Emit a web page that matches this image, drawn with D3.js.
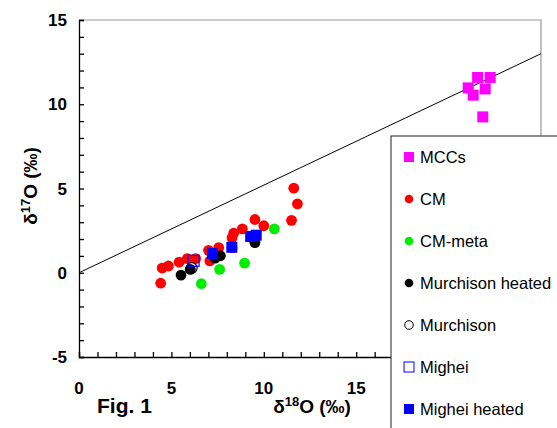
<!DOCTYPE html>
<html>
<head>
<meta charset="utf-8">
<script src="https://cdn.jsdelivr.net/npm/d3@7"></script>
<style>
  body { margin: 0; background: #fff; }
  text { font-family: Arial, "Liberation Sans", sans-serif; }
</style>
</head>
<body>
<script>
// data: [d18O, d17O]
const mccs = [[21.57, 11.59], [22.25, 11.59], [21.06, 10.97], [21.98, 10.91], [21.33, 10.54], [21.85, 9.25]];
const cm = [[4.42, -0.62], [4.5, 0.28], [4.84, 0.4], [5.42, 0.63], [5.86, 0.84], [6.31, 0.84],
    [7.01, 1.33], [7.08, 0.7], [7.56, 1.49], [8.28, 1.49], [8.28, 2.07], [8.37, 2.35],
    [8.84, 2.6], [9.52, 3.16], [10.0, 2.79], [11.5, 3.11], [11.62, 5.02], [11.82, 4.09]];
const cmMeta = [[6.62, -0.65], [7.61, 0.2], [8.96, 0.57], [10.57, 2.6]];
const murchHeated = [[5.52, -0.14], [6.02, 0.2], [7.37, 0.87], [7.65, 1.01], [9.52, 1.79]];
const murchison = [[6.1, 0.28]];
const mighei = [[6.2, 0.71]];
const migheiHeated = [[7.22, 1.14], [8.27, 1.51], [9.29, 2.15], [9.59, 2.23]];

const xTicks = [0, 5, 10, 15, 20, 25];
const yTicks = [-5, 0, 5, 10, 15];
const slope = 0.52; // terrestrial fractionation line

const series = [
    {name: "MCCs", data: mccs, shape: "square", fill: "#ff00ff", stroke: "none"},
    {name: "CM", data: cm, shape: "circle", fill: "#ff0000", stroke: "none"},
    {name: "CM-meta", data: cmMeta, shape: "circle", fill: "#00ee00", stroke: "none"},
    {name: "Murchison heated", data: murchHeated, shape: "circle", fill: "#000000", stroke: "none"},
    {name: "Murchison", data: murchison, shape: "circle", fill: "#ffffff", stroke: "#000000"},
    {name: "Mighei", data: mighei, shape: "square", fill: "none", stroke: "#0000ff"},
    {name: "Mighei heated", data: migheiHeated, shape: "square", fill: "#0000ff", stroke: "none"}
];
// drawing order: open Murchison circle sits under the heated ones
const drawOrder = [0, 1, 2, 4, 3, 5, 6];

const W = 557, H = 428;
const svg = d3.select("body").append("svg")
    .attr("width", W)
    .attr("height", H);

const x = d3.scaleLinear().domain([0, 25]).range([79, 541]);
const y = d3.scaleLinear().domain([-5, 15]).range([357, 20]);

// frame (top/right grey)
svg.append("path")
    .attr("d", `M${x(0)},${y(15)}H${x(25)}V${y(-5)}`)
    .attr("fill", "none")
    .attr("stroke", "#999")
    .attr("stroke-width", 1.2);

// minor ticks every unit, pointing inward
const xAxis = d3.axisBottom(x).tickValues(d3.range(0, 26, 1)).tickSize(-5).tickFormat("");
const yAxis = d3.axisLeft(y).tickValues(d3.range(-5, 16, 1)).tickSize(-5).tickFormat("");
svg.append("g").attr("transform", `translate(0,${y(-5)})`).call(xAxis)
    .call(g => g.selectAll("line,path").attr("stroke", "#000").attr("stroke-width", 1.3));
svg.append("g").attr("transform", `translate(${x(0)},0)`).call(yAxis)
    .call(g => g.selectAll("line,path").attr("stroke", "#000").attr("stroke-width", 1.3));

// tick labels
svg.selectAll(".xl").data(xTicks).join("text")
    .attr("x", d => x(d)).attr("y", 394)
    .attr("text-anchor", "middle")
    .style("font-weight", "bold").style("font-size", "17px")
    .text(d => d);
svg.selectAll(".yl").data(yTicks).join("text")
    .attr("x", 67).attr("y", d => y(d) + 6)
    .attr("text-anchor", "end")
    .style("font-weight", "bold").style("font-size", "17px")
    .text(d => d);

// fractionation line
svg.append("line")
    .attr("x1", x(0)).attr("y1", y(0))
    .attr("x2", x(25)).attr("y2", y(25 * slope))
    .attr("stroke", "#000").attr("stroke-width", 1);

// points
const sq = 11, r = 5.4;
drawOrder.map(i => series[i]).forEach(s => {
    const g = svg.append("g");
    if (s.shape === "square") {
        g.selectAll("rect").data(s.data).join("rect")
            .attr("x", d => x(d[0]) - sq / 2).attr("y", d => y(d[1]) - sq / 2)
            .attr("width", sq).attr("height", sq)
            .attr("fill", s.fill).attr("stroke", s.stroke).attr("stroke-width", 1.2);
    } else {
        g.selectAll("circle").data(s.data).join("circle")
            .attr("cx", d => x(d[0])).attr("cy", d => y(d[1])).attr("r", r)
            .attr("fill", s.fill).attr("stroke", s.stroke).attr("stroke-width", 1.2);
    }
});

// axis titles
const xt = svg.append("text").attr("x", 312).attr("y", 413)
    .attr("text-anchor", "middle")
    .style("font-weight", "bold").style("font-size", "19px");
xt.append("tspan").text("δ");
xt.append("tspan").attr("dy", -7).style("font-size", "13px").text("18");
xt.append("tspan").attr("dy", 7).text("O (‰)");

const yt = svg.append("text")
    .attr("transform", "translate(37,186) rotate(-90)")
    .attr("text-anchor", "middle")
    .style("font-weight", "bold").style("font-size", "19px");
yt.append("tspan").text("δ");
yt.append("tspan").attr("dy", -7).style("font-size", "13px").text("17");
yt.append("tspan").attr("dy", 7).text("O (‰)");

svg.append("text").attr("x", 97).attr("y", 413)
    .style("font-weight", "bold").style("font-size", "21px")
    .text("Fig. 1");

// legend
const legend = svg.append("g").attr("transform", "translate(391,136)");
legend.append("rect")
    .attr("width", 180).attr("height", 300)
    .attr("fill", "#fff").attr("stroke", "#444").attr("stroke-width", 1.2);
const items = legend.selectAll(".item").data(series).join("g")
    .attr("transform", (d, i) => `translate(18,${21 + i * 42})`);
items.each(function (s) {
    const g = d3.select(this);
    if (s.shape === "square") {
        g.append("rect").attr("x", -5).attr("y", -5).attr("width", 10).attr("height", 10)
            .attr("fill", s.fill).attr("stroke", s.stroke).attr("stroke-width", 1);
    } else {
        g.append("circle").attr("r", 4.3)
            .attr("fill", s.fill).attr("stroke", s.stroke).attr("stroke-width", 1);
    }
});
items.append("text")
    .attr("x", 11).attr("y", 6)
    .style("font-size", "16.5px")
    .text(d => d.name);
</script>
</body>
</html>
